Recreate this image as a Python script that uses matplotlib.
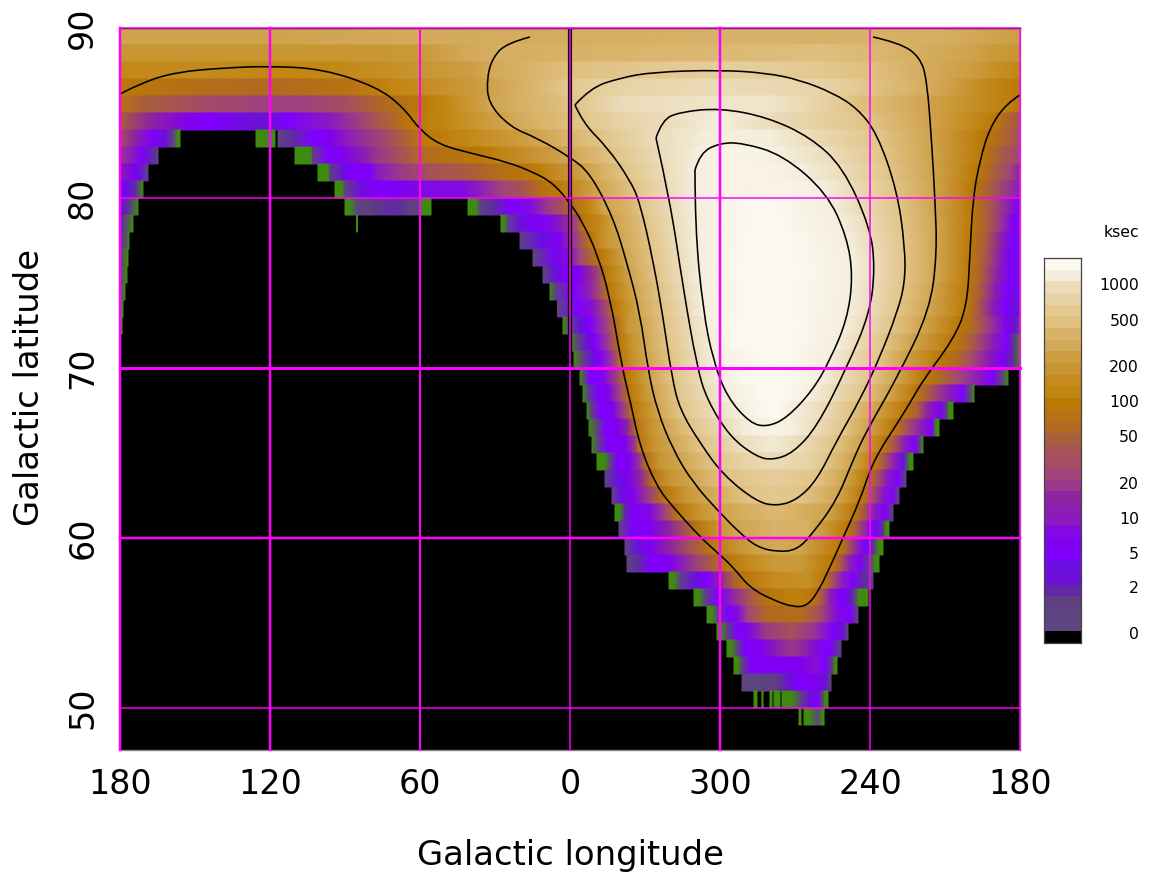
import matplotlib
matplotlib.use("Agg")
import matplotlib.pyplot as plt
import numpy as np
from matplotlib.colors import LinearSegmentedColormap, ListedColormap, Normalize
from matplotlib.patches import PathPatch
from matplotlib.path import Path

plt.rcParams['font.family'] = ['DejaVu Sans']

# ---- colour bands of the scale, bottom (black = 0 ksec) to top ----
BAND_COLOURS = ['#000000', '#5e4480', '#5e4480', '#5e4080', '#6228a8', '#6c10d8', '#6c10e0',
                '#8000ff', '#8000f0', '#8308e4', '#8c1ac0', '#8b1fb0', '#8e24a0', '#983a8a',
                '#a0467a', '#a44e62', '#a55354', '#a95e3c', '#b06a22', '#b77213', '#bb7805',
                '#c38612', '#c58b1e', '#c89632', '#cc9e42', '#d4aa5a', '#d8b268', '#dfc07f',
                '#e3c88f', '#e8d3a6', '#ebdbb8', '#f5eedd', '#fbf8ef']
EDGE_COLOUR = '#3f8a10'
CBAR_LABELS = ['0', '2', '5', '10', '20', '50', '100', '200', '500', '1000']
CBAR_LABEL_BAND = [0.69, 4.63, 7.6, 10.6, 13.6, 17.6, 20.6, 23.6, 27.6, 30.6]

# ---- exposure per 1-degree latitude strip: (top latitude, [(unrolled longitude, band), ...]) ----
STRIPS = [
 (90, [(0,24.5),(60,24.5),(120,25),(180,25.5),(240,26),(300,26),(330,25.5),(350,24.5),(360,24)]),
 (89, [(0,23),(60,23),(90,23),(120,23.5),(140,25),(150,25.5),(180,26),(240,26.5),(280,27),(300,26.5),(320,25.5),(340,24.5),(350,23.5),(360,23)]),
 (88, [(0,21.5),(30,22),(60,21),(90,21.5),(120,23),(140,24),(150,25),(180,27),(210,28),(240,28.5),(260,28.5),(280,28),(300,27),(320,25.5),(340,24),(350,22.5),(360,21)]),
 (87, [(0,20),(10,19.5),(30,18.5),(60,18),(90,19),(110,21),(120,22),(140,23.5),(150,24.5),(180,28),(200,29),(240,30),(270,29.5),(290,28.5),(310,26.5),(330,24.5),(345,22),(360,20)]),
 (86, [(0,19),(10,17),(30,15),(60,13.5),(70,13.5),(90,15),(105,18),(120,20),(130,21),(147,24.5),(182,27.5),(200,30),(240,30.5),(260,30.5),(280,29),(292,27.5),(323,24.5),(340,22.5),(355,20.5),(360,19)]),
 (85, [(0,17),(12,12),(28,8),(36,7),(52,5),(60,5),(67,7),(84,10),(100,15),(116,20),(130,21),(153,24.5),(184,27.5),(200,29),(217,30),(240,31),(262,30),(299,27.5),(323.6,24.5),(340,22),(350,20),(360,16)]),
 (84, [(0,15),(6,12),(13,7),(18,5),(21.5,2),(23,-1),(24,-1)]),
 (84, [(54.4,-1),(62,-1)]),
 (84, [(63.2,1),(70,4),(77,7),(84,8),(90,10),(100,13),(109,15.5),(121,20),(140,21.5),(167,24.5),(192,27.5),(214,30),(235,31),(260,31),(277,30),(304,27.5),(324,24.5),(345,20),(352,18),(360,15)]),
 (83, [(0,13),(5,10),(9,7),(13,4),(15.2,1)]),
 (83, [(70,-1),(76.4,-1),(77,2),(82.8,7),(89,8),(98,11),(103,13),(112,15.5),(120,18),(130,19),(144,20),(178.4,24.5),(197.6,27.5),(216,30),(231,31),(240,31.5),(255,31.5),(265,31),(285,30),(306,27.5),(324.5,24.5),(345,20),(352,17),(360,14)]),
 (82, [(0,11),(5,8),(8,6),(11.2,1)]),
 (82, [(79.2,-1),(83.2,-1),(84,2),(89,5),(92,7),(100,7.5),(103,10),(112,13),(124,15.5),(136,16.5),(144,17.5),(156,19),(165,20),(187.6,24.5),(202,27.5),(217.6,30),(230,31),(240,31.5),(260,31.5),(273,31),(290,30),(308,27.5),(325,24.5),(343,20),(350,17),(356,14),(360,12)]),
 (81, [(0,8),(3,6),(6,4),(9.2,-1)]),
 (81, [(86,-1),(88.8,-1),(90,1),(96,5),(102,7),(112,8),(120,9),(136,9),(143,10),(153,14),(161,16),(169,19),(175,20),(191,24.5),(205.6,27.5),(219,30),(230,31),(240,31.5),(270,31.5),(281.6,31),(293.6,30),(310,27.5),(325.6,24.5),(341,20),(348,17),(355,13),(360,10)]),
 (80, [(0,5.5),(3,4),(7.2,-1)]),
 (80, [(90,-1),(92,-1),(95,2),(100,3),(110,4),(116,3),(120,2),(120.8,-1),(124.4,-1)]),
 (80, [(139.2,-1),(142.4,-1),(144,1),(150,4),(156,7),(164,9),(171,13),(177,16),(181,18.5),(188,21),(193.6,24.5),(203,26),(208,27.5),(220,30),(230,31),(240,31.5),(250,32),(264,32),(272,31.5),(285,31),(296,30),(312,27.5),(326,24.5),(341,20),(349,16),(356,10),(360,7)]),
 (79, [(0,4),(2,2.5),(5.2,-1)]),
 (79, [(94.6,-1),(95,-1)]),
 (79, [(152.4,-1),(153.6,-1),(155,1.5),(160,5),(166,7),(172,9),(177,11),(183,15),(185,19.5),(192,21.5),(198,24.5),(207,26.5),(210,27.5),(221,30),(230,31),(240,31.5),(252,32),(265,32),(275,31.5),(288.4,31),(299,30),(313,27.5),(327,24.5),(341,20),(347,17),(352,13),(357,8),(360,7)]),
 (78, [(0,2),(2,1.5),(3.6,-1)]),
 (78, [(160,1),(168,6),(176,8),(183,14),(188,19.5),(193,22.5),(200,24.5),(212,27.5),(222,30),(230.4,31),(240,31.5),(250,32),(268,32),(280,31.5),(291,31),(301,30),(313.6,27.5),(327,24.5),(340,20),(347,16.5),(352,12),(357,7),(360,6)]),
 (77, [(0,1),(3.2,-1)]),
 (77, [(165.2,1),(173,6.5),(179,9),(184,14),(189,18),(192,20),(200,23.5),(202,24.5),(213,27.5),(223,30),(231,31),(240,31.5),(248,32),(270,32),(282,31.5),(293,31),(302,30),(314,27.5),(327,24.5),(340,20),(347,16),(352,11),(356,7.5),(360,6)]),
 (76, [(0,1),(2.8,-1)]),
 (76, [(169.2,1),(174,5),(178,7),(183,8),(188,12),(192,15),(194,20),(201,23),(204,24.5),(214.4,27.5),(223.6,30),(231.6,31),(240,31.5),(247,32),(272,32),(283,31.5),(293,31),(302,30),(314,27.5),(327,24.5),(340,20),(345,17),(351,11),(356,7),(360,6)]),
 (75, [(0,1),(2,-1)]),
 (75, [(172,-1),(174,1),(181,7),(187,10),(192,15),(195.2,19.5),(200,22),(205.6,24.5),(216,27.5),(225.4,30),(232.4,31),(240,31.5),(250,32),(270,32),(282,31.5),(292.4,31),(301,30),(313,27.5),(325,24.5),(339,20),(344,17),(350,11),(355,7),(360,6)]),
 (74, [(0,-1),(1.2,-1)]),
 (74, [(175,1),(183,7),(189,9.5),(195,16),(197,19),(201,21.5),(207,24.5),(217,27.5),(227,30),(233,31),(240,31.5),(250,32),(270,32),(282,31.5),(291.6,31),(301,30),(311.6,27.5),(324,24.5),(339,20),(343,17),(349,11),(354,7),(358,5),(360,6)]),
 (73, [(0,-1),(0.8,-1)]),
 (73, [(177.2,-1),(180,1),(184,5),(188,7),(195,14),(199,19),(203,23),(209,24.5),(218,27.5),(228.4,30),(234.8,31),(245,32),(272,32),(280,31.5),(290,31),(298,30),(309,27.5),(321,24.5),(335.6,20),(341,18),(348,13),(354,8.5),(358,5),(360,1)]),
 (72, [(180.4,-1),(183,1),(187,5),(190,7),(196,14),(200,20),(205,23),(209.6,24.5),(219,27.5),(229,30),(236.4,31),(245,32),(270,32),(278,31.5),(287,31),(295,30),(306,27.5),(317,24.5),(333,20),(338,18),(343,15),(349,11),(355,7),(358,3),(360,-1)]),
 (71, [(181.6,-1),(185,2),(189,6),(192,7),(198,14),(200,19.5),(206,23),(210.4,24.5),(220.4,27.5),(230.4,30),(237,31),(245,31.5),(255,32),(268,32),(276,31.5),(284,31),(292,30),(304,27.5),(313,24.5),(328,20),(335,18),(341,14.5),(347,11),(353,7.5),(357,4),(360,-1)]),
 (70, [(184,-1),(186,1),(188,7),(193,7.5),(200,16),(203,20),(209,23),(212,24.5),(221,27.5),(232,30),(239.6,31),(250,32),(268,32),(275,31.5),(280.4,31),(289,30),(301,27.5),(311,24.5),(322,20),(328,18),(336,14),(344,10),(349,7),(353,2),(355.2,-1)]),
 (69, [(185.2,-1),(187,1),(191,7),(195,8),(200,14),(204,20),(210,23),(213.6,24.5),(222.8,27.5),(234,30),(242.4,31),(255,32),(265,32),(272,31.5),(276.4,31),(285.6,30),(297.6,27.5),(307.6,24.5),(318,20),(323,17),(332,10),(337,7),(340,2),(341.6,-1)]),
 (68, [(186.8,-1),(188.5,1),(192,7),(197,8),(201,13),(205,19.5),(212,23),(215,24.5),(224,27.5),(237,30),(247,31),(258,32),(264,32),(269,31),(282,30),(292,27.5),(302,24.5),(314,20),(319,17),(323,12),(328,7),(331,3),(331.5,-1),(333.2,-1)]),
 (67, [(187.6,-1),(191,1),(194,7),(199,8),(203,12),(206.4,19),(213,23),(217.6,24.5),(228,27.5),(241.6,30),(250,31),(260,31.5),(270,31),(279,30),(290,27.5),(299,24.5),(310,20),(315,15),(321,10),(325,7),(326.4,-1),(327.6,-1)]),
 (66, [(188.8,-1),(191,1),(195,7),(202,8),(206,13),(207.6,19.5),(214,23),(220,24.5),(232.4,27.5),(247.6,30),(260,30.8),(272.4,30),(286,27.5),(296,24.5),(305.6,20),(310,16),(314,10),(318,7),(320,2),(321.2,-1)]),
 (65, [(190.8,-1),(194,-1),(196,1),(199,7),(204,8),(208,13),(210.4,19),(216,23),(224,24.5),(237,27.5),(250,29),(262,30),(275,29),(283,27.5),(293,24.5),(302,20),(306,16),(310,10),(313.5,6),(316,-1),(317.2,-1)]),
 (64, [(194,1),(199,6),(203,8),(208,12),(213,19),(220,23),(228,24.5),(243,27.5),(262,28.5),(278.8,27.5),(290,24.5),(299,20),(303,16),(307,10),(311,7),(314.4,1)]),
 (63, [(196.8,1),(200,6),(205,8),(211,13),(217.6,19.5),(226,23),(233.6,24.5),(251,27.5),(262,28),(273,27.5),(287.6,24.5),(297,20),(301,16),(305,10),(309,7),(311.6,1)]),
 (62, [(198,-1),(200,-1),(202,4),(205,7),(212,9),(218,14),(223,19.5),(232,23),(240,24.5),(262,26.5),(283,24.5),(294,20),(298,16),(302,10),(306,7),(309.2,1)]),
 (61, [(199.6,1),(205,7),(212,8),(220,12),(226,16),(231,19.5),(240,23),(246,24.5),(262,26),(275,26),(278,24.5),(291,20),(295,16),(299,10),(302,7),(305,4),(306.4,-1),(307.6,-1)]),
 (60, [(202,1),(207,6),(212,8),(220,12),(228,16),(236,19.5),(248,23),(255,24.5),(264,25),(272,24.5),(288,20),(291,17),(295,11),(298,7),(301,4),(303.6,-1),(305.2,-1)]),
 (59, [(202.8,1),(208,4),(212,7),(220,8),(229,13),(237,17),(243,19.5),(252,22),(262,23.5),(272,23.5),(285,20),(288,17),(292,11),(296,7),(300,3),(302,-1),(303.6,-1)]),
 (58, [(219.6,-1),(221.6,-1),(224,2),(230,6),(235,7),(240,12),(245,17),(249.6,19.5),(262,22),(275,22.5),(281.6,20),(285,16),(289,10),(293,7),(297,4),(301.2,1)]),
 (57, [(229.6,-1),(231.6,-1),(234,2),(239,7),(244,10),(251,16),(258,19),(268,20.5),(272,20.5),(278,19.5),(281,16),(284,11),(288,7),(292,5),(294,2),(295.5,-1),(299.2,-1)]),
 (56, [(234.8,-1),(236.8,-1),(239,2),(243,7),(247,9),(251,14),(259,18),(272,18.5),(280,15),(287,9),(292,7),(295.2,2)]),
 (55, [(238.8,-1),(240.5,-1),(243,3),(247,7),(252,9),(258,13),(268,15.5),(277,13),(285,7),(289,5),(291.2,2)]),
 (54, [(242.8,-1),(244.5,-1),(247,3),(250,7),(256,8),(263,11),(269,13),(275,11),(279,9),(284,7),(288.4,3)]),
 (53, [(245.6,-1),(247,-1),(249,3),(252,7),(262,7.5),(272,8),(278,9.5),(282,7),(285,3),(286,-1),(286.8,-1)]),
 (52, [(248.8,1),(256,2),(262,3),(268,5),(271,7),(279,8),(282,5),(284.4,1)]),
 (51, [(253.6,-1),(254.8,-1)]),
 (51, [(256.8,-1),(257.2,-1)]),
 (51, [(260,-1),(260.8,-1)]),
 (51, [(261.6,-1),(264,-1)]),
 (51, [(264.8,-1),(269,-1),(272,1),(276,5),(279,7),(281,3),(282,-1),(283.2,-1)]),
 (50, [(271.6,-1),(272.4,-1)]),
 (50, [(273.6,-1),(276,-1),(279,1),(281,-1),(281.6,-1)]),
]

# ---- exposure contours (unrolled longitude, latitude) ----
CONTOUR_100 = [(0,86.12),(9.2,86.82),(22.8,87.41),(41.2,87.65),(60,87.76),(81.2,87.59),(102.8,86.53),(113.2,85.35),(120,84.0),(128,83.12),(140,82.65),(154.8,82.12),(165.2,81.53),(173.2,80.88),(180,79.71),(185.2,78.53),(190.8,76.76),(196,74.18),(200.8,70.06),(204,68.12),(208,65.35),(214.8,63.0),(221.2,61.82),(232,60.06),(240,59.0),(245.2,58.29),(252,57.06),(261.2,56.35),(269.2,55.94),(274.8,56.0),(279.2,56.82),(284,58.29),(289.2,60.0),(296,62.24),(300,64.0),(304,65.18),(309.2,66.35),(316,67.94),(321.2,69.29),(333.2,71.65),(338.8,73.59),(340,76.76),(341.2,80.06),(344,82.24),(348,84.18),(354.8,85.59),(360,86.06)]
CONTOUR_300 = [(164,89.47),(154.8,89.12),(149.2,88.29),(146.8,87.12),(147.2,85.59),(156,84.18),(166.8,83.53),(180,82.41),(188,81.47),(197.2,78.88),(202.8,76.18),(208,73.24),(211.2,69.88),(214.8,67.53),(221.2,65.18),(229.2,63.24),(240,61.47),(248,60.29),(254.8,59.47),(262.8,59.18),(270.8,59.29),(277.2,60.29),(286.8,62.24),(293.2,64.59),(298.8,66.35),(310.8,69.41),(324,73.41),(326.8,76.76),(326,79.88),(324.8,83.0),(322.8,86.94),(320,88.29),(312,89.12),(301.2,89.47)]
CONTOUR_500 = [(182,85.47),(185.2,84.41),(194.8,83.0),(204,81.06),(208,79.71),(213.2,76.35),(217.2,73.0),(220.8,69.41),(224,67.53),(232,65.59),(241.2,63.71),(254.8,62.12),(262.8,61.88),(270.8,62.24),(278.8,63.41),(286.8,65.76),(296,68.12),(304,70.65),(310.8,73.24),(314,75.0),(314,77.12),(310.8,80.47),(302.8,83.82),(294.8,85.29),(285.2,86.18),(272,86.94),(258.8,87.35),(240,87.53),(213.2,87.41),(200,87.06),(188,86.47),(182,85.47)]
CONTOUR_800 = [(214.4,83.53),(220,79.88),(225.2,74.76),(230.8,70.06),(234.8,68.12),(244,65.94),(254.8,64.76),(261.2,64.59),(269.2,65.0),(278.8,66.53),(290.8,70.06),(300,73.24),(302,75.94),(300,78.29),(289.2,81.82),(276,83.59),(258.8,84.76),(240,85.29),(224,85.06),(216.8,84.59),(214.4,83.53)]
CONTOUR_1000 = [(230,81.65),(230,78.29),(233.2,73.41),(237.2,70.47),(242.8,68.29),(252,66.76),(258.8,66.53),(266.8,67.06),(277.2,68.71),(284,70.47),(290.8,72.82),(293.2,75.35),(290.8,77.71),(282.8,80.29),(265.2,82.53),(249.2,83.24),(240,83.24),(232,82.65),(230,81.65)]
CONTOURS = [CONTOUR_100, CONTOUR_300, CONTOUR_500, CONTOUR_800, CONTOUR_1000]

# ---- axes ----
LON_TICKS = [0, 60, 120, 180, 240, 300, 360]
LON_LABELS = ['180', '120', '60', '0', '300', '240', '180']
LAT_TICKS = [50, 60, 70, 80, 90]
LON_GRID_WIDTH = [2.5, 2.5, 2.0, 1.5, 2.5, 1.5, 1.5]   # px
LAT_GRID_WIDTH = [1.5, 2.5, 3.0, 1.5, 1.5]             # px

W, H = 1157, 873
fig = plt.figure(figsize=(W / 100, H / 100), dpi=100, facecolor='white')
ax = fig.add_axes([120 / W, 1 - 750 / H, 900 / W, 722 / H], facecolor='black')

cmap = LinearSegmentedColormap.from_list(
    'exposure', [((i) / 33, c) for i, c in enumerate([EDGE_COLOUR] + BAND_COLOURS)], N=2048)
norm = Normalize(-1, 32)

for lat_top, stops in STRIPS:
    lon = np.array([s[0] for s in stops], float)
    band = np.array([s[1] for s in stops], float)
    X = np.vstack([lon, lon])
    Y = np.vstack([np.full_like(lon, lat_top - 1.0), np.full_like(lon, lat_top)])
    C = np.vstack([band, band])
    ax.pcolormesh(X, Y, C, shading='gouraud', cmap=cmap, norm=norm, zorder=1)

for pts in CONTOURS:
    verts, codes = [pts[0]], [Path.MOVETO]
    for i in range(1, len(pts) - 1):
        mid = ((pts[i][0] + pts[i + 1][0]) / 2, (pts[i][1] + pts[i + 1][1]) / 2)
        if i == len(pts) - 2:
            mid = pts[-1]
        verts += [pts[i], mid]
        codes += [Path.CURVE3, Path.CURVE3]
    ax.add_patch(PathPatch(Path(verts, codes), fc='none', ec='black', lw=1.15, zorder=3))

ax.plot([179.8, 179.8], [70, 90], color='black', lw=3.0, zorder=3.5, solid_capstyle='butt')
for t, w in zip(LON_TICKS, LON_GRID_WIDTH):
    ax.axvline(t - (0.2 if t == 180 else 0), color='#ff00ff', lw=w * 0.72, zorder=4, clip_on=False)
for t, w in zip(LAT_TICKS, LAT_GRID_WIDTH):
    ax.axhline(t, color='#ff00ff', lw=w * 0.72, zorder=4, clip_on=False)

ax.set_xlim(0, 360)
ax.set_ylim(90 - 722 / 17, 90)
ax.set_xticks(LON_TICKS, LON_LABELS)
ax.set_yticks(LAT_TICKS, [str(v) for v in LAT_TICKS])
ax.tick_params(axis='x', length=0, labelsize=24, pad=13)
ax.tick_params(axis='y', length=0, labelsize=24, pad=15, labelrotation=90)
for lab in ax.get_yticklabels():
    lab.set_va('center')
for name, sp in ax.spines.items():
    sp.set_visible(name != 'left')
    sp.set_color('black' if name == 'top' else '#888888')
    sp.set_linewidth(1.0)
fig.text(570 / W, 1 - 855 / H, 'Galactic longitude', fontsize=24.4, ha='center', va='center')
fig.text(30 / W, 1 - 388 / H, 'Galactic latitude', fontsize=24.4, ha='center', va='center', rotation=90)

cax = fig.add_axes([1044 / W, 1 - 643 / H, 37 / W, 385 / H])
nb = len(BAND_COLOURS)
cax.imshow(np.arange(nb)[::-1, None], cmap=ListedColormap(BAND_COLOURS), vmin=-0.5, vmax=nb - 0.5,
           extent=(0, 1, 0, nb), aspect='auto', interpolation='nearest')
cax.set_xticks([])
cax.set_yticks([])
for sp in cax.spines.values():
    sp.set_color('#444444')
    sp.set_linewidth(0.9)
for lab, b in zip(CBAR_LABELS, CBAR_LABEL_BAND):
    cax.text(2.57, b, lab, ha='right', va='center', fontsize=11.3, clip_on=False)
cax.text(2.1, 35.2, 'ksec', ha='center', va='center', fontsize=11.3, clip_on=False)

fig.savefig('out.png', dpi=100)
